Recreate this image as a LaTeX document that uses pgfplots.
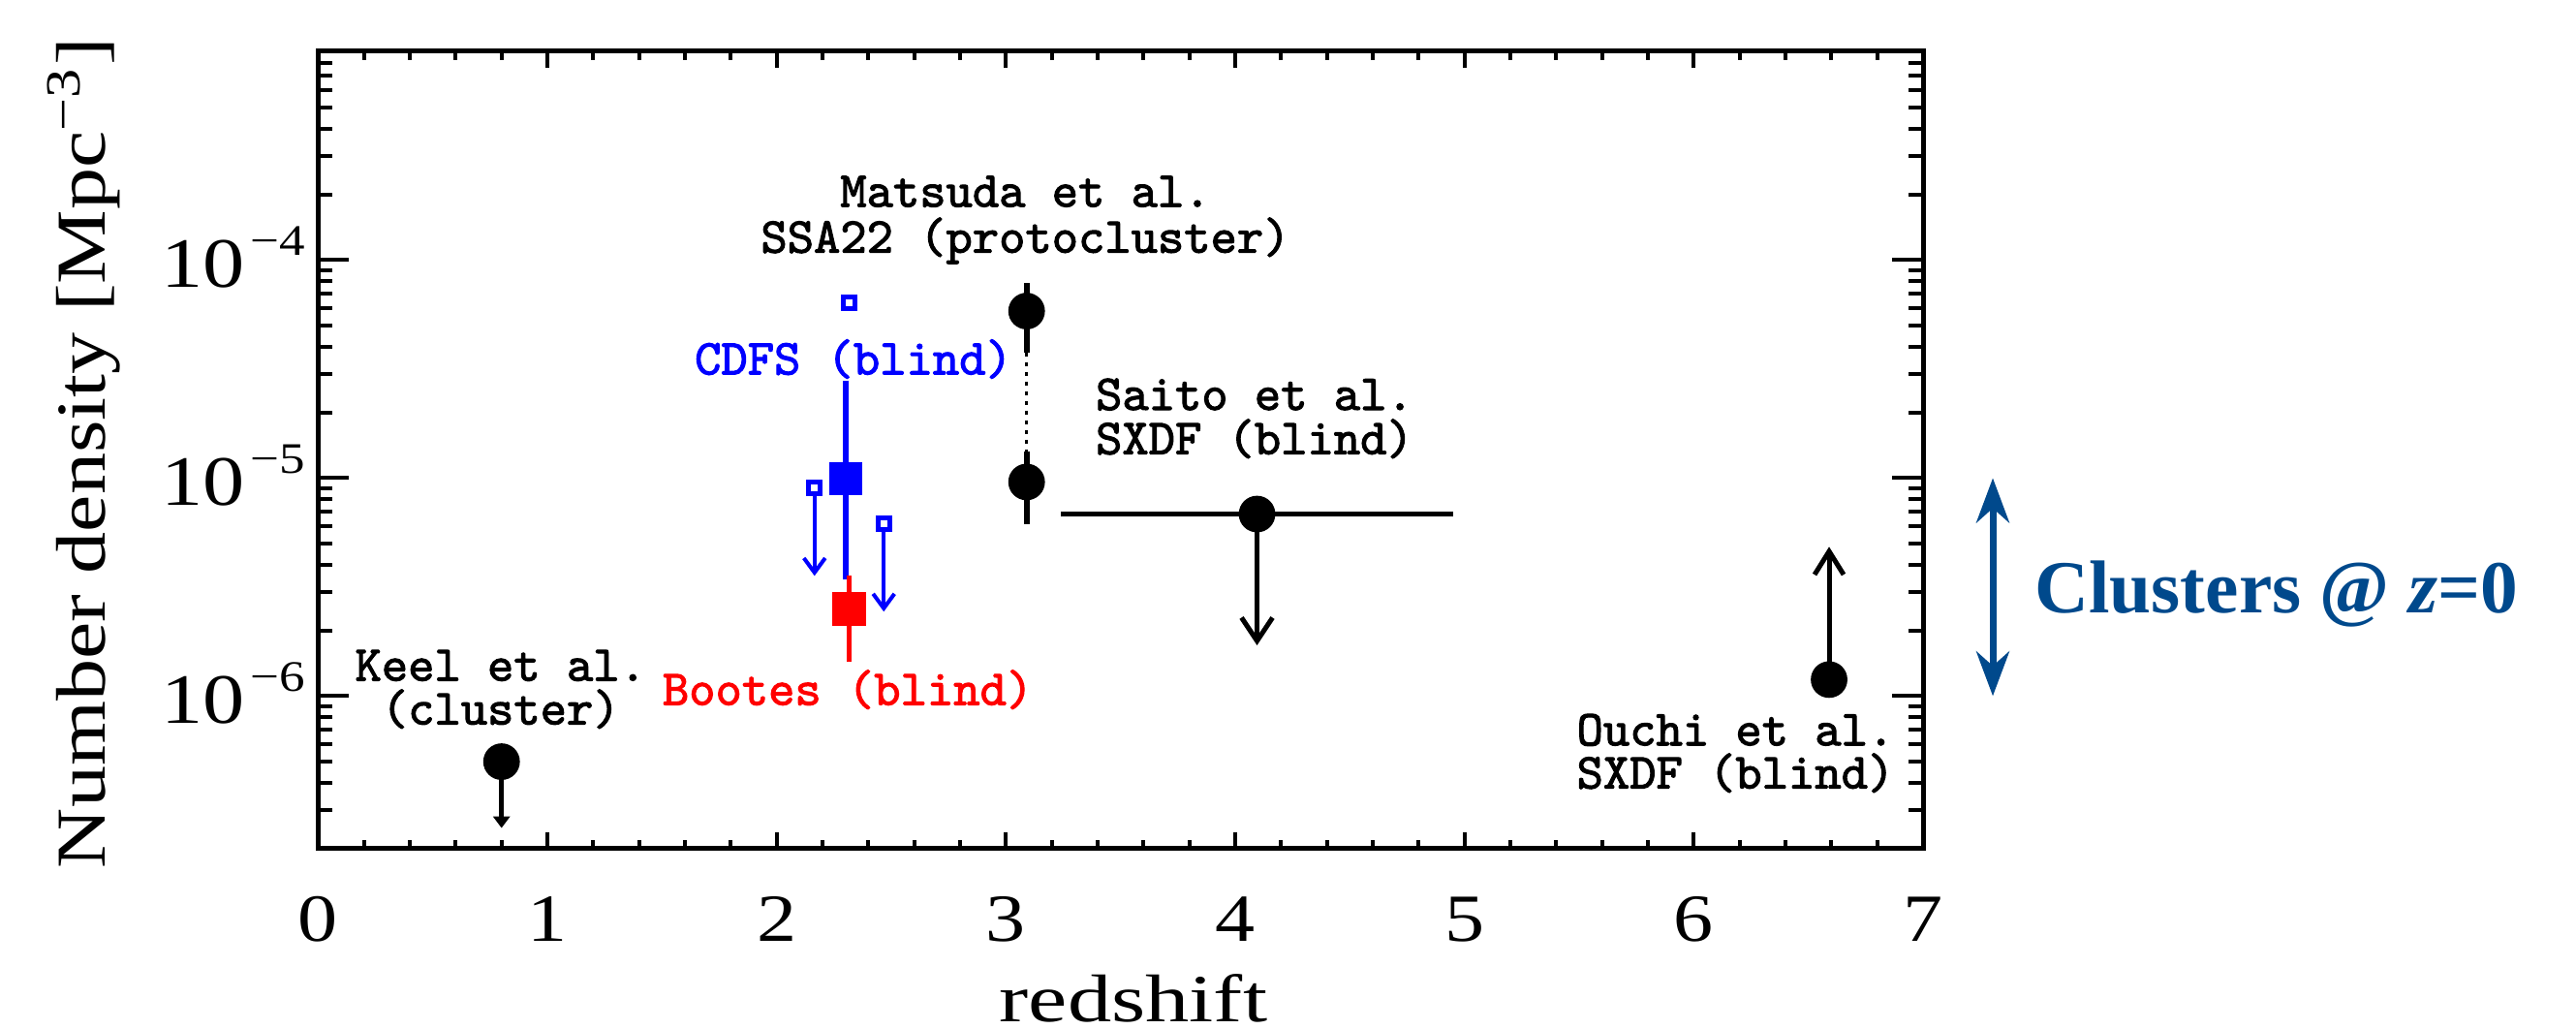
\documentclass[border=0pt]{standalone}
\usepackage{fontspec}
\usepackage{pgfplots}
\pgfplotsset{compat=1.18}
\usetikzlibrary{arrows.meta}
\setmainfont{Liberation Serif}
\newfontfamily\tickfont{Liberation Serif}[FakeStretch=1.18]
\newfontfamily\xlabfont{Liberation Serif}[FakeStretch=1.3]
\newfontfamily\ylabfont{Liberation Serif}[FakeStretch=1.19]
\newfontfamily\notefont{lmmono10-regular.otf}[FakeBold=2]
\definecolor{clusterblue}{RGB}{0,73,140}
% y tick label: 10^{-n} in the text font
\newcommand\tl[1]{10\kern0.3mm\raisebox{1.64mm}{\fontsize{6.4}{7}\selectfont −#1}}
\tikzset{note/.style={font=\notefont\fontsize{7.4}{9}\selectfont, inner sep=0pt, anchor=base}}

\begin{document}
\begin{tikzpicture}
\begin{axis}[
  at={(0,0)}, anchor=south west,
  scale only axis, width=82.84mm, height=41.14mm,
  xmin=0, xmax=7,
  ymode=log, ymin=2e-7, ymax=9.1e-4,
  clip=false,
  xtick={0,1,2,3,4,5,6,7},
  xticklabels={0,1,2,3,4,5,6,7},
  minor x tick num=4,
  ytick={1e-6,1e-5,1e-4},
  yticklabels={\tl{6},\tl{5},\tl{4}},
  minor ytick={2e-7,3e-7,4e-7,5e-7,6e-7,7e-7,8e-7,9e-7,
               2e-6,3e-6,4e-6,5e-6,6e-6,7e-6,8e-6,9e-6,
               2e-5,3e-5,4e-5,5e-5,6e-5,7e-5,8e-5,9e-5,
               2e-4,3e-4,4e-4,5e-4,6e-4,7e-4,8e-4},
  tick align=inside,
  major tick length=1.6mm, minor tick length=0.75mm,
  xtick style={/pgfplots/major tick length=0.85mm, /pgfplots/minor tick length=0.45mm},
  tick style={black, line width=0.2mm},
  axis line style={line width=0.25mm},
  xticklabel style={anchor=base, inner sep=0pt, yshift=-4.82mm,
    font=\tickfont\fontsize{9.9}{12}\selectfont},
  yticklabel style={anchor=base east, inner sep=0pt, xshift=-0.6mm, yshift=-1.39mm,
    font=\tickfont\fontsize{10.4}{12}\selectfont},
  xlabel={redshift},
  xlabel style={at={(axis description cs:0.508,0)}, anchor=base, inner sep=0pt,
    yshift=-8.93mm, font=\xlabfont\fontsize{9.9}{12}\selectfont},
  ylabel={Number density [Mpc\textsuperscript{−3}]},
  ylabel style={at={(axis description cs:-0.1328,0.496)}, anchor=base, inner sep=0pt,
    font=\ylabfont\fontsize{10.3}{12}\selectfont},
]

% Keel et al. (upper limit)
\addplot[black, line width=0.25mm, -{Triangle[length=0.6mm,width=0.85mm]}]
  coordinates {(0.8,5e-7) (0.8,2.48e-7)};

% CDFS
\addplot[blue, line width=0.28mm] coordinates {(2.3,2.81e-5) (2.3,3.44e-6)};
\addplot[blue, line width=0.2mm, -{Straight Barb[length=0.75mm,width=1.1mm]}]
  coordinates {(2.165,8.3e-6) (2.165,3.56e-6)};
\addplot[blue, line width=0.2mm, -{Straight Barb[length=0.75mm,width=1.1mm]}]
  coordinates {(2.467,5.65e-6) (2.467,2.44e-6)};
\addplot[blue, only marks, mark=square, mark size=0.3mm, line width=0.25mm]
  coordinates {(2.315,6.38e-5) (2.165,9.0e-6) (2.467,6.15e-6)};
\addplot[blue, only marks, mark=square*, mark size=0.78mm]
  coordinates {(2.3,9.9e-6)};

% Bootes
\addplot[red, line width=0.25mm] coordinates {(2.315,3.56e-6) (2.315,1.44e-6)};
\addplot[red, only marks, mark=square*, mark size=0.81mm]
  coordinates {(2.315,2.51e-6)};

% Matsuda et al.
\addplot[black, line width=0.3mm] coordinates {(3.09,7.86e-5) (3.09,3.77e-5)};
\addplot[black, line width=0.15mm, dash pattern=on 0.2mm off 0.3mm]
  coordinates {(3.09,3.77e-5) (3.09,1.33e-5)};
\addplot[black, line width=0.3mm] coordinates {(3.09,1.33e-5) (3.09,6.16e-6)};

% Saito et al.
\addplot[black, line width=0.25mm] coordinates {(3.24,6.84e-6) (4.95,6.84e-6)};
\addplot[black, line width=0.25mm, -{Straight Barb[length=1.2mm,width=1.6mm]}]
  coordinates {(4.095,6.84e-6) (4.095,1.71e-6)};

% Ouchi et al. (lower limit)
\addplot[black, line width=0.25mm, -{Straight Barb[length=1.2mm,width=1.5mm]}]
  coordinates {(6.59,1.19e-6) (6.59,4.84e-6)};

% filled circles
\addplot[black, only marks, mark=*, mark size=0.875mm]
  coordinates {(0.8,5e-7) (3.09,5.84e-5) (3.09,9.6e-6) (4.095,6.84e-6) (6.59,1.19e-6)};

% labels
\node[note] at (axis cs:0.796,1.175e-6) {Keel et al.};
\node[note] at (axis cs:0.796,7.41e-7) {(cluster)};
\node[note] at (axis cs:3.085,1.758e-4) {Matsuda et al.};
\node[note] at (axis cs:3.085,1.083e-4) {SSA22 (protocluster)};
\node[note] at (axis cs:4.084,2.056e-5) {Saito et al.};
\node[note] at (axis cs:4.084,1.288e-5) {SXDF (blind)};
\node[note] at (axis cs:6.182,5.94e-7) {Ouchi et al.};
\node[note] at (axis cs:6.182,3.77e-7) {SXDF (blind)};
\node[note, blue] at (axis cs:2.335,2.99e-5) {CDFS (blind)};
\node[note, red] at (axis cs:2.31,9.1e-7) {Bootes (blind)};

% z = 0 cluster range
\draw[clusterblue, line width=0.35mm,
  {Stealth[length=2.3mm,width=1.7mm]}-{Stealth[length=2.3mm,width=1.7mm]}]
  (axis cs:7.304,1e-5) -- (axis cs:7.304,1e-6);
\node[anchor=base west, inner sep=0pt, text=clusterblue,
  font=\bfseries\fontsize{11}{13}\selectfont]
  at (axis cs:7.482,2.41e-6) {Clusters @ \textit{z}=0};
\end{axis}
\pgfresetboundingbox
\path (-16.42mm,-9.28mm) rectangle (116.54mm,43.78mm);
\end{tikzpicture}
\end{document}
